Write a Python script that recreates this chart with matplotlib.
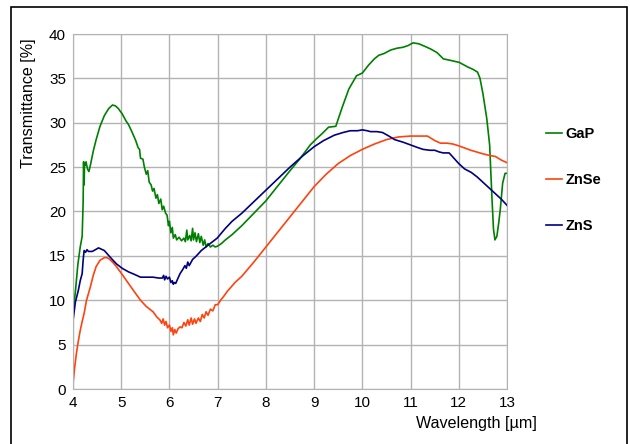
import matplotlib
matplotlib.use('Agg')
import matplotlib.pyplot as plt
from matplotlib.patches import Rectangle

plt.rcParams['font.family'] = ['Liberation Sans', 'DejaVu Sans']

# transmittance spectra, wavelength in um, transmittance in %
gap_wl = [4.00, 4.05, 4.10, 4.15, 4.19, 4.21, 4.22, 4.23, 4.24, 4.25, 4.27, 4.30, 4.33, 4.36,
          4.42, 4.48, 4.56, 4.65, 4.74, 4.82, 4.88, 4.94, 5.02, 5.10, 5.15, 5.22,
          5.30, 5.35, 5.38, 5.40, 5.45, 5.48, 5.52, 5.55, 5.58, 5.62, 5.65, 5.68, 5.72,
          5.75, 5.78, 5.82, 5.85, 5.88, 5.92, 5.95, 5.98, 6.00, 6.03, 6.06, 6.08, 6.12,
          6.15, 6.20, 6.25, 6.30, 6.33, 6.36, 6.38, 6.42, 6.45, 6.48, 6.50, 6.53, 6.56,
          6.60, 6.63, 6.66, 6.70, 6.73, 6.76, 6.80, 6.85, 6.90, 6.95, 7.00, 7.08, 7.16,
          7.30, 7.50, 7.75, 8.00, 8.25, 8.50, 8.70, 8.92, 9.05, 9.17, 9.30, 9.45, 9.58,
          9.72, 9.88, 10.00, 10.13, 10.25, 10.34, 10.45, 10.59, 10.72, 10.84, 10.95,
          11.05, 11.17, 11.30, 11.42, 11.55, 11.68, 11.85, 12.01, 12.18, 12.30, 12.39,
          12.44, 12.50, 12.58, 12.64, 12.66, 12.69, 12.72, 12.75, 12.79, 12.83, 12.86,
          12.91, 12.96, 13.00]
gap_tr = [8.5, 11.0, 14.0, 16.0, 17.2, 21.0, 25.6, 23.0, 25.5, 25.2, 25.6, 24.8, 24.5, 25.2,
          26.8, 28.1, 29.6, 30.8, 31.6, 32.0, 31.9, 31.6, 31.0, 30.2, 29.8, 29.0,
          28.0, 27.2, 27.0, 26.0, 25.9, 25.0, 24.2, 24.6, 23.3, 23.0, 22.3, 22.6, 21.5,
          21.9, 20.9, 21.4, 20.2, 20.6, 19.8, 19.6, 18.4, 18.9, 17.6, 18.2, 17.0, 17.4,
          16.8, 17.1, 16.7, 17.0, 16.6, 17.9, 16.8, 17.3, 16.7, 18.1, 16.8, 17.6, 16.6,
          17.5, 16.5, 17.2, 16.2, 16.8, 16.0, 16.4, 16.0, 16.2, 16.0, 16.1, 16.4, 16.8,
          17.4, 18.4, 19.8, 21.2, 22.9, 24.6, 25.9, 27.5, 28.2, 28.8, 29.5, 29.6, 31.7,
          33.8, 35.3, 35.6, 36.5, 37.2, 37.6, 37.8, 38.2, 38.4, 38.5, 38.7,
          39.0, 38.9, 38.6, 38.3, 37.9, 37.2, 37.0, 36.8, 36.3, 36.0, 35.7,
          35.0, 33.3, 30.5, 27.5, 25.0, 21.3, 18.0, 16.8, 17.2, 18.8, 20.2,
          23.2, 24.3, 24.3]

znse_wl = [4.00, 4.03, 4.07, 4.11, 4.15, 4.19, 4.23, 4.28, 4.36, 4.42, 4.48, 4.56, 4.65,
           4.70, 4.74, 4.82, 4.90, 5.02, 5.15, 5.28, 5.40, 5.52, 5.66, 5.74, 5.80, 5.84,
           5.87, 5.90, 5.93, 5.96, 6.00, 6.03, 6.06, 6.08, 6.11, 6.14, 6.18, 6.22, 6.26,
           6.30, 6.34, 6.38, 6.41, 6.45, 6.48, 6.52, 6.55, 6.60, 6.64, 6.68, 6.72, 6.76,
           6.80, 6.85, 6.90, 6.95, 7.00, 7.06, 7.12, 7.20, 7.28, 7.36, 7.42, 7.50, 7.75,
           8.00, 8.25, 8.50, 8.75, 9.00, 9.25, 9.50, 9.75, 10.00, 10.25, 10.50, 10.75,
           11.00, 11.20, 11.35, 11.50, 11.62, 11.76, 11.88, 12.00, 12.25, 12.50, 12.65,
           12.76, 12.88, 13.00]
znse_tr = [0.6, 2.2, 4.0, 5.4, 6.6, 7.6, 8.5, 10.0, 11.5, 12.8, 13.8, 14.5, 14.8,
           14.8, 14.7, 14.3, 13.8, 12.9, 11.9, 10.9, 10.0, 9.3, 8.7, 8.1, 7.8, 7.4,
           7.9, 7.2, 7.6, 6.9, 7.2, 6.5, 6.9, 6.1, 6.7, 6.3, 6.8, 7.0, 6.9,
           7.5, 7.1, 7.8, 7.2, 8.0, 7.3, 7.9, 7.4, 8.0, 7.6, 8.4, 8.0, 8.7,
           8.3, 9.0, 8.8, 9.5, 9.5, 10.0, 10.4, 11.0, 11.5, 12.0, 12.3, 12.7, 14.3,
           16.0, 17.7, 19.4, 21.1, 22.8, 24.2, 25.4, 26.3, 27.0, 27.6, 28.1, 28.4,
           28.5, 28.5, 28.5, 28.0, 27.7, 27.7, 27.6, 27.4, 26.9, 26.5, 26.3,
           26.2, 25.8, 25.5]

zns_wl = [4.00, 4.05, 4.11, 4.15, 4.19, 4.21, 4.23, 4.26, 4.29, 4.32, 4.40, 4.53, 4.65,
          4.78, 4.90, 5.02, 5.15, 5.28, 5.40, 5.53, 5.66, 5.78, 5.85, 5.88, 5.90, 5.93,
          5.96, 6.00, 6.03, 6.06, 6.08, 6.10, 6.13, 6.17, 6.22, 6.28, 6.32, 6.35, 6.38,
          6.41, 6.48, 6.56, 6.66, 6.80, 6.99, 7.16, 7.30, 7.50, 7.75, 8.00, 8.25, 8.50,
          8.75, 9.00, 9.20, 9.42, 9.60, 9.75, 9.90, 10.00, 10.10, 10.17, 10.30, 10.42,
          10.55, 10.67, 10.85, 11.00, 11.15, 11.26, 11.40, 11.50, 11.60, 11.68, 11.80,
          11.90, 12.00, 12.12, 12.26, 12.38, 12.50, 12.62, 12.76, 12.88, 13.00]
zns_tr = [7.7, 9.8, 11.1, 12.2, 13.0, 14.5, 15.6, 15.4, 15.7, 15.5, 15.5, 15.9, 15.6,
          14.8, 14.1, 13.6, 13.2, 12.9, 12.6, 12.6, 12.6, 12.5, 12.5, 12.8, 12.3, 12.7,
          12.4, 12.6, 12.0, 12.2, 11.8, 12.0, 11.9, 12.4, 13.0, 13.5, 13.9, 13.6, 14.3,
          13.9, 14.6, 15.0, 15.6, 16.2, 17.0, 18.1, 18.9, 19.8, 21.1, 22.4, 23.7, 25.0,
          26.2, 27.3, 28.0, 28.6, 28.9, 29.1, 29.1, 29.2, 29.1, 29.0, 29.0, 28.9,
          28.5, 28.1, 27.8, 27.5, 27.2, 27.0, 26.9, 26.9, 26.7, 26.6, 26.6,
          26.0, 25.4, 24.8, 24.4, 23.9, 23.3, 22.7, 22.0, 21.4, 20.7]

series = [('GaP', gap_wl, gap_tr, '#008000'),
          ('ZnSe', znse_wl, znse_tr, '#ff420e'),
          ('ZnS', zns_wl, zns_tr, '#000080')]

fig = plt.figure(figsize=(6.3, 4.44), dpi=100)
ax = fig.add_axes([73 / 630, 1 - 389 / 444, 434 / 630, 355 / 444])

for name, wl, tr, col in series:
    ax.plot(wl, tr, color=col, lw=1.2, label=name)

ax.set_xlim(4, 13)
ax.set_ylim(0, 40)
ax.set_xticks(range(4, 14))
ax.set_yticks(range(0, 41, 5))
ax.grid(True, color='#b3b3b3', lw=1)
ax.set_axisbelow(True)
for s in ax.spines.values():
    s.set_color('#b3b3b3')
ax.tick_params(length=0, labelsize=11, pad=5, colors='#000000')

fig.text(29 / 630, 1 - 103 / 444, 'Transmittance [%]', rotation=90,
         ha='center', va='center', fontsize=11.6)
fig.text(476 / 630, 1 - 423 / 444, 'Wavelength [µm]', ha='center', va='center',
         fontsize=11.6)

leg = ax.legend(loc='center left', frameon=False, handlelength=1.1,
                handletextpad=0.25, labelspacing=2.2,
                prop={'weight': 'bold', 'size': 10.5},
                borderaxespad=0, borderpad=0)
leg.set_bbox_to_anchor((546 / 630, 1 - 255 / 444, 0.1, 150 / 444), transform=fig.transFigure)

# outer chart frame
fig.patches.append(Rectangle((11 / 630, -0.05), 616 / 630, 1.05 - 7 / 444,
                             transform=fig.transFigure, fill=False,
                             edgecolor='black', lw=1.2))

fig.savefig('out.png', dpi=100)
